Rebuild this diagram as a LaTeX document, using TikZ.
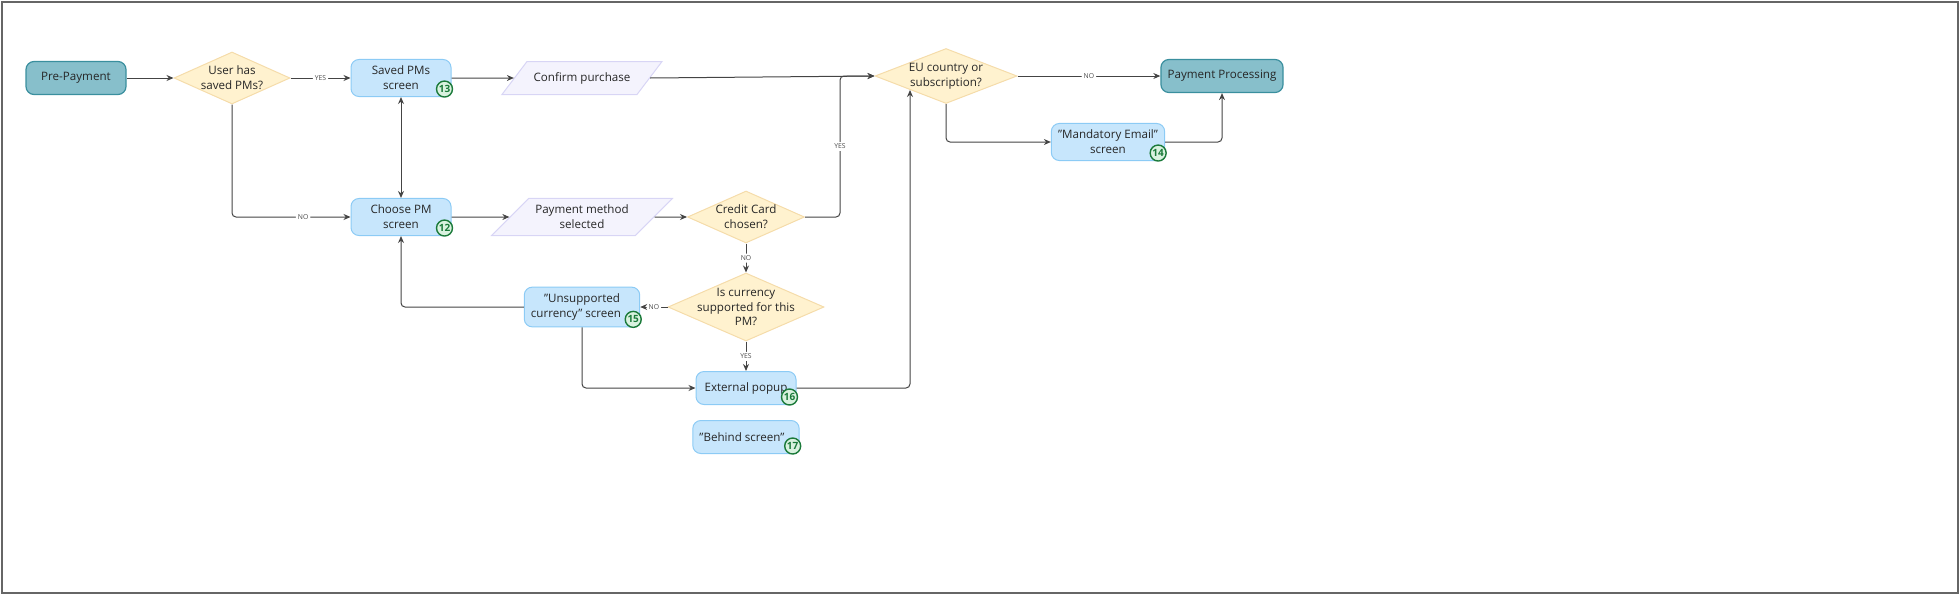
\documentclass[tikz,border=0pt]{standalone}
\usepackage{fontspec}
\setmainfont{Open Sans}
\usetikzlibrary{shapes.geometric,arrows.meta}
\definecolor{tealf}{HTML}{87BFCB}\definecolor{teald}{HTML}{3A8F9E}
\definecolor{bluef}{HTML}{C7E6FC}\definecolor{blued}{HTML}{8CCBF5}
\definecolor{yelf}{HTML}{FFF2CF}\definecolor{yeld}{HTML}{F5DCAA}
\definecolor{parf}{HTML}{F4F3FD}\definecolor{pard}{HTML}{D8D5F5}
\definecolor{badge}{HTML}{1B7A3A}\definecolor{badgef}{HTML}{D9F2DF}
\definecolor{edge}{HTML}{444444}
\tikzset{
 x=0.5pt,y=-0.5pt,
 txt/.style={font=\fontsize{5.8}{7.4}\selectfont,align=center,text=black!85},
 term/.style={txt,draw=teald,fill=tealf,rounded corners=4pt,line width=0.6pt,minimum width=50pt,minimum height=16.5pt},
 scr/.style={txt,draw=blued,fill=bluef,rounded corners=4pt,line width=0.5pt,minimum width=50pt,minimum height=16.5pt},
 dec/.style={diamond,draw=yeld,fill=yelf,line width=0.5pt,inner sep=0pt,label={[txt]center:#1}},
 io/.style={txt,trapezium,trapezium left angle=45,trapezium right angle=135,draw=pard,fill=parf,line width=0.5pt,minimum width=62pt,minimum height=16.5pt,trapezium stretches=true},
 bdg/.style={circle,draw=badge,fill=badgef,line width=0.7pt,inner sep=0pt,minimum size=8pt,font=\fontsize{5}{5}\bfseries\selectfont,text=badge},
 ar/.style={draw=edge,line width=0.5pt,-{Stealth[length=3.5pt,width=3pt]},rounded corners=2pt},
 lbl/.style={fill=white,font=\fontsize{3.4}{4}\selectfont,text=black!70,inner sep=1pt},
}
\begin{document}
\begin{tikzpicture}
\useasboundingbox (0,0) rectangle (1960,595);
\draw[draw=black!60,line width=1.2pt] (2,2) rectangle (1958,593);
\node[term] (pre) at (76,78) {Pre-Payment};
\node[dec={User has\\saved PMs?},minimum width=58pt,minimum height=26pt] (user) at (232,78) {};
\node[scr] (saved) at (401,78) {Saved PMs\\screen};
\node[io] (conf) at (582,78) {Confirm purchase};
\node[dec={EU country or\\subscription?},minimum width=71pt,minimum height=27.5pt] (eu) at (946,76) {};
\node[term] (pp) at (1222,76) {Payment Processing};
\node[scr] (mail) at (1108,142) {"Mandatory Email"\\screen};
\node[scr] (choose) at (401,217) {Choose PM\\screen};
\node[io] (pms) at (582,217) {Payment method\\selected};
\node[dec={Credit Card\\chosen?},minimum width=58.5pt,minimum height=26pt] (cc) at (746,217) {};
\node[dec={Is currency\\supported for this\\PM?},minimum width=78pt,minimum height=34pt] (cur) at (746,307) {};
\node[scr] (uns) at (582,307) {"Unsupported\\currency" screen\hspace*{6pt}};
\node[scr] (ext) at (746,388) {External popup};
\node[scr] (beh) at (746,437) {"Behind screen"\hspace*{4pt}};
\foreach \n/\k in {saved/13,choose/12,mail/14,uns/15,ext/16,beh/17}
  \node[bdg] (b\k) at ([xshift=-3.5pt,yshift=4pt]\n.south east) {\k};
\draw[ar] (pre) -- (user);
\draw[ar] (user) -- node[lbl]{YES} (saved);
\draw[ar] (user.south) |- node[lbl,pos=0.8]{NO} (choose.west);
\draw[ar,{Stealth[length=3.5pt,width=3pt]}-{Stealth[length=3.5pt,width=3pt]}] (saved) -- (choose);
\draw[ar] (saved) -- (conf);
\draw[ar] (conf.east) -- (eu.west);
\draw[ar] (choose) -- (pms);
\draw[ar] (pms) -- (cc);
\coordinate (c1) at (840,76);
\draw[ar] (cc.east) -| node[lbl,pos=0.75]{YES} (c1) -- (eu.west);
\draw[ar] (cc) -- node[lbl]{NO} (cur);
\draw[ar] (cur) -- node[lbl]{NO} (uns);
\draw[ar] (cur) -- node[lbl]{YES} (ext);
\draw[ar] (uns.west) -| (choose.south);
\draw[ar] (uns.south) |- (ext.west);
\coordinate (c2) at (910,90);
\draw[ar] (ext.east) -| (c2);
\draw[ar] (eu) -- node[lbl]{NO} (pp);
\draw[ar] (eu.south) |- (mail.west);
\draw[ar] (mail.east) -| (pp.south);
\end{tikzpicture}
\end{document}
